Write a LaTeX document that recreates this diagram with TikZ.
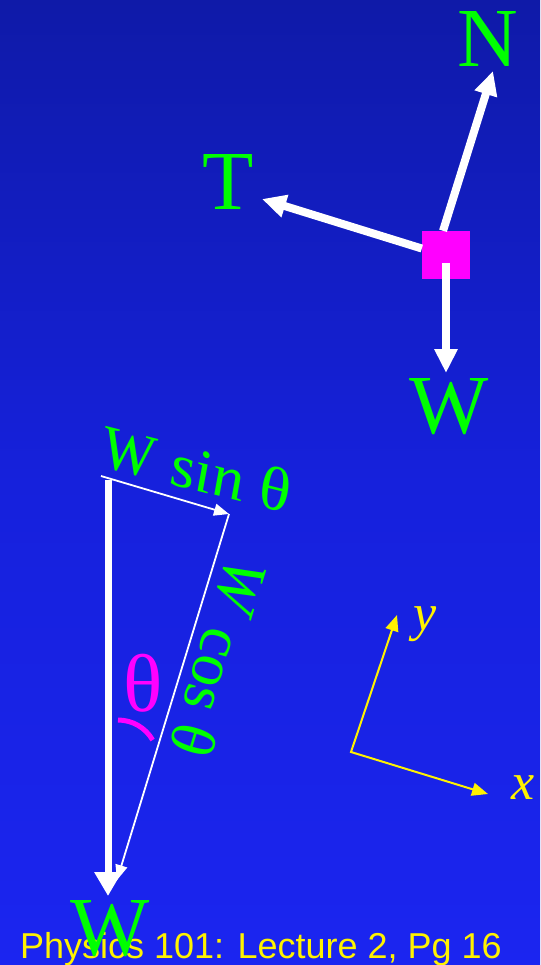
\documentclass[tikz,border=0pt]{standalone}
\usepackage{fontspec}
\setmainfont{Liberation Serif}
\newfontfamily\footfont{Liberation Sans}
\usetikzlibrary{arrows.meta}
\definecolor{bgtop}{RGB}{15,26,168}
\definecolor{bgmid}{RGB}{22,33,220}
\definecolor{bgbot}{RGB}{27,37,240}
\definecolor{lbl}{RGB}{0,255,0}
\definecolor{mag}{RGB}{255,0,255}
\tikzset{
    force/.style={white,line width=8pt,-{Triangle[length=24pt,width=22pt]}},
    comp/.style={white,line width=1.8pt,-{Triangle[length=15pt,width=12pt]}},
    axis/.style={yellow,line width=2pt,{Triangle[length=16pt,width=13pt]}-{Triangle[length=16pt,width=13pt]}},
    big/.style={lbl,inner sep=0pt,font=\fontsize{84}{84}\selectfont},
    mid/.style={lbl,inner sep=0pt,font=\fontsize{63}{63}\selectfont},
    axlbl/.style={yellow,inner sep=0pt,font=\fontsize{52}{52}\selectfont\itshape}
}

\begin{document}
\begin{tikzpicture}[x=1pt,y=-1pt]
    \shade[top color=bgtop,bottom color=bgbot,middle color=bgmid] (0,0) rectangle (540,965);
    \clip (0,0) rectangle (540,965);
    % forces on the block
    \node[fill=mag,minimum size=48pt,inner sep=0pt] (box) at (446,255) {};
    \coordinate (Ntip) at (493,71);
    \coordinate (Ttip) at (262,199);
    \coordinate (Wtip) at (446,373);
    \draw[force] (box.97) -- (Ntip);
    \draw[force] (box.165) -- (Ttip);
    \draw[force] ([yshift=-8pt]box.center) -- (Wtip);
    \node[big] (N) at (488,39) {N};
    \node[big] (T) at (228,182) {T};
    \node[big] (W) at (449,407) {W};
    % components of W
    \coordinate (apex) at (108,480);
    \coordinate (start) at (101,476);
    \coordinate (corner) at (229,514);
    \coordinate (costip) at (117,880);
    \coordinate (Wbtip) at (108,896);
    \draw[force,line width=7pt,-{Triangle[length=24pt,width=26pt]}] (apex) -- (Wbtip);
    \draw[comp] (start) -- (corner);
    \draw[comp] (corner) -- (costip);
    \node[mid,yslant=-0.25] (wsin) at (196,469) {\itshape W sin θ};
    \node[mid,rotate=-107] (wcos) at (219,658) {\textit{W} cos θ};
    \node[mag,inner sep=0pt,font=\fontsize{82}{82}\selectfont] (th) at (143,683) {θ};
    \draw[mag,line width=5pt] (118,720) arc[start angle=90,end angle=30,radius=40pt];
    % tilted axes
    \coordinate (o) at (351,752);
    \coordinate (xtip) at (488,794);
    \coordinate (ytip) at (397,615);
    \draw[axis] (ytip) -- (o) -- (xtip);
    \node[axlbl] (xl) at (523,788) {x};
    \node[axlbl] (yl) at (425,624) {y};
    \node[yellow,anchor=base,font=\footfont\fontsize{36}{36}\selectfont] (foot) at (261,958) {Physics 101: Lecture 2, Pg 16};
    \node[big] (Wb) at (110,929) {W};
\end{tikzpicture}
\end{document}
